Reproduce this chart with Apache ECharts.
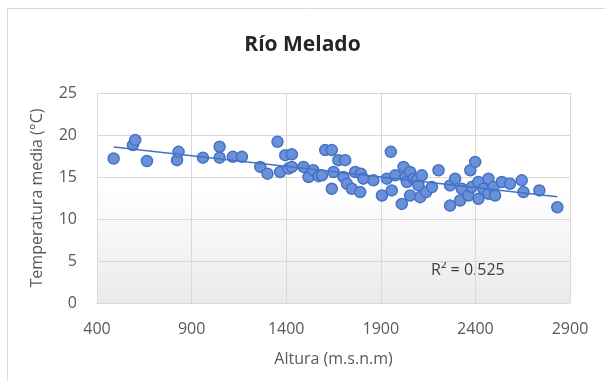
<!DOCTYPE html>
<html>
<head>
<meta charset="utf-8">
<script src="https://cdn.jsdelivr.net/npm/echarts@6/dist/echarts.min.js"></script>
<style>html,body{margin:0;padding:0;background:#fff;}#c{width:605px;height:381px;}</style>
</head>
<body>
<div id="c"></div>
<script>
const chartTitle = 'Río Melado';
const xAxisName = 'Altura (m.s.n.m)';
const yAxisName = 'Temperatura media (°C)';
const r2Label = 'R² = 0.525';
const xTicks = [400, 900, 1400, 1900, 2400, 2900];
const yTicks = [0, 5, 10, 15, 20, 25];

const altura = [
  488, 590, 602, 664, 823, 831, 960, 1048, 1048, 1118, 1166, 1263, 1301, 1354, 1368,
  1395, 1412, 1430, 1430, 1491, 1518, 1543, 1571, 1589, 1606, 1641, 1641, 1650, 1676,
  1703, 1712, 1721, 1747, 1765, 1791, 1795, 1808, 1861, 1906, 1932, 1953, 1958, 1976,
  2011, 2020, 2030, 2038, 2055, 2055, 2073, 2090, 2099, 2108, 2117, 2140, 2170, 2205,
  2266, 2266, 2293, 2319, 2328, 2363, 2373, 2381, 2399, 2416, 2416, 2442, 2469, 2469,
  2495, 2504, 2540, 2583, 2645, 2654, 2738, 2833
];
const temperatura = [
  17.2, 18.8, 19.4, 16.9, 17.0, 18.0, 17.3, 17.3, 18.6, 17.4, 17.4, 16.2, 15.4, 19.2, 15.6,
  17.6, 16.0, 17.7, 16.2, 16.2, 15.0, 15.8, 15.1, 15.2, 18.2, 18.2, 13.6, 15.6, 17.0,
  15.0, 17.0, 14.2, 13.6, 15.6, 13.2, 15.4, 14.8, 14.6, 12.8, 14.8, 18.0, 13.4, 15.2,
  11.8, 16.2, 15.0, 14.4, 15.6, 12.8, 14.8, 14.6, 14.0, 12.6, 15.2, 13.2, 13.8, 15.8,
  14.0, 11.6, 14.8, 12.2, 13.6, 12.8, 15.8, 13.8, 16.8, 14.4, 12.4, 13.6, 14.8, 13.0,
  13.8, 12.8, 14.4, 14.2, 14.6, 13.2, 13.4, 11.4
];

const points = altura.map((a, i) => [a, temperatura[i]]);

// Linear trend (least squares)
const n = altura.length;
const mx = altura.reduce((s, v) => s + v, 0) / n;
const my = temperatura.reduce((s, v) => s + v, 0) / n;
let sxy = 0, sxx = 0;
for (let i = 0; i < n; i++) { sxy += (altura[i] - mx) * (temperatura[i] - my); sxx += (altura[i] - mx) ** 2; }
const slope = sxy / sxx;
const intercept = my - slope * mx;
const xmin = Math.min(...altura), xmax = Math.max(...altura);
const trend = [[xmin, intercept + slope * xmin], [xmax, intercept + slope * xmax]];

const FONT = 'Open Sans';
const chart = echarts.init(document.getElementById('c'), null, {renderer: 'canvas'});
chart.setOption({
  animation: false,
  backgroundColor: '#ffffff',
  title: {
    text: chartTitle, left: 'center', top: 30,
    textStyle: {fontFamily: FONT, fontSize: 21, fontWeight: 'bold', color: '#262626'}
  },
  grid: {
    left: 97, right: 35, top: 93, bottom: 78, show: true, borderColor: 'transparent',
    backgroundColor: {type: 'linear', x: 0, y: 0, x2: 0, y2: 1,
      colorStops: [{offset: 0, color: '#ffffff'}, {offset: 0.45, color: '#ffffff'}, {offset: 1, color: '#eaeaea'}]}
  },
  xAxis: {
    type: 'value', min: xTicks[0], max: xTicks[xTicks.length - 1], interval: xTicks[1] - xTicks[0],
    name: xAxisName, nameLocation: 'middle', nameGap: 48,
    nameTextStyle: {fontFamily: FONT, fontSize: 16, color: '#595959'},
    axisLine: {show: true, lineStyle: {color: '#d9d9d9', width: 1}},
    axisTick: {show: false},
    axisLabel: {fontFamily: FONT, fontSize: 16, color: '#595959', margin: 18,
      formatter: v => String(v)},
    splitLine: {show: true, lineStyle: {color: '#d9d9d9', width: 1}}
  },
  yAxis: {
    type: 'value', min: yTicks[0], max: yTicks[yTicks.length - 1], interval: yTicks[1] - yTicks[0],
    name: yAxisName, nameLocation: 'middle', nameGap: 52, nameRotate: 90,
    nameTextStyle: {fontFamily: FONT, fontSize: 16, color: '#595959'},
    axisLine: {show: true, lineStyle: {color: '#d9d9d9', width: 1}},
    axisTick: {show: false},
    axisLabel: {fontFamily: FONT, fontSize: 16, color: '#595959', margin: 20},
    splitLine: {show: true, lineStyle: {color: '#d9d9d9', width: 1}}
  },
  series: [
    {
      type: 'scatter', data: points, symbol: 'circle', symbolSize: 11,
      itemStyle: {color: '#6b90da', borderColor: '#4472c4', borderWidth: 1.5, opacity: 1},
      z: 2
    },
    {
      type: 'line', data: trend, symbol: 'none', silent: true,
      lineStyle: {color: '#4472c4', width: 1.5}, z: 3
    }
  ],
  graphic: [
    {type: 'rect', left: 5, top: 6, shape: {x: 0, y: 0, width: 700, height: 500},
     style: {fill: 'none', stroke: '#d9d9d9', lineWidth: 1}, silent: true, z: -1},
    {type: 'text', left: 431, top: 262,
     style: {text: r2Label, fontFamily: FONT, fontSize: 16, fill: '#404040'}}
  ]
});
</script>
</body>
</html>
